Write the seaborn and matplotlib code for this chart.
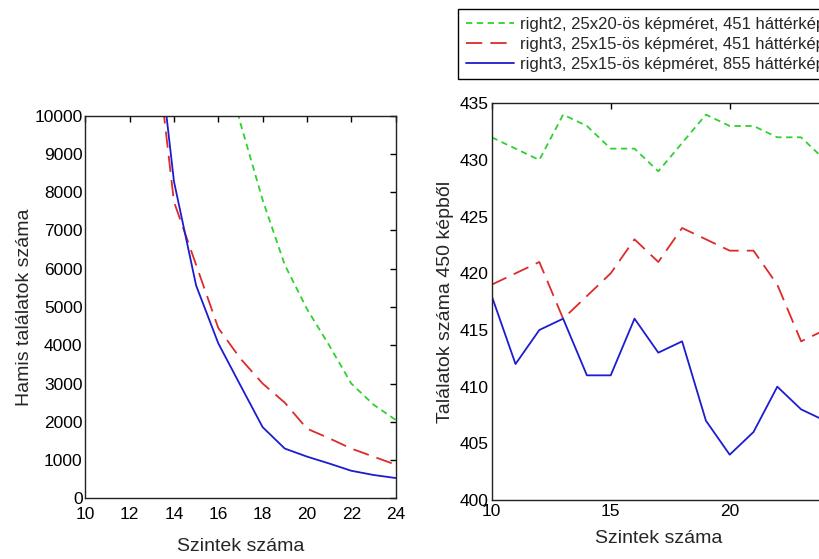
import matplotlib
matplotlib.use("Agg")
import matplotlib.pyplot as plt
import seaborn as sns
import pandas as pd
from matplotlib import font_manager

# ---- data ----
labels = [
    "right2, 25x20-ös képméret, 451 háttérkép",
    "right3, 25x15-ös képméret, 451 háttérkép",
    "right3, 25x15-ös képméret, 855 háttérkép",
]

# left panel: false hits vs. number of levels
left_x_green = [16, 17, 18, 19, 20, 21, 22, 23, 24]
left_y_green = [12000, 9800, 7800, 6100, 4950, 4000, 3000, 2450, 2050]
left_x_red = [13, 14, 15, 16, 17, 18, 19, 20, 21, 22, 23, 24]
left_y_red = [12750, 7750, 6100, 4450, 3650, 3000, 2500, 1820, 1570, 1300, 1090, 880]
left_x_blue = [13, 14, 15, 16, 17, 18, 19, 20, 21, 22, 23, 24]
left_y_blue = [13350, 8280, 5560, 4050, 2950, 1860, 1300, 1090, 910, 720, 610, 530]

# right panel: hits out of 450 images
right_x = [10, 11, 12, 13, 14, 15, 16, 17, 18, 19, 20, 21, 22, 23, 24]
right_y_green = [432, 431, 430, 434, 433, 431, 431, 429, 431.5, 434, 433, 433, 432, 432, 430]
right_y_red = [419, 420, 421, 416, 418, 420, 423, 421, 424, 423, 422, 422, 419, 414, 415]
right_y_blue = [418, 412, 415, 416, 411, 411, 416, 413, 414, 407, 404, 406, 410, 408, 407]

left_xticks = [10, 12, 14, 16, 18, 20, 22, 24]
left_yticks = [0, 1000, 2000, 3000, 4000, 5000, 6000, 7000, 8000, 9000, 10000]
right_xticks = [10, 15, 20]
right_yticks = [400, 405, 410, 415, 420, 425, 430, 435]

sns.set_style("white")
names = {f.name for f in font_manager.fontManager.ttflist}
fam = [f for f in ["Liberation Sans Narrow", "Liberation Sans", "DejaVu Sans"] if f in names]
plt.rcParams["font.family"] = fam
plt.rcParams["axes.edgecolor"] = "black"
plt.rcParams["axes.linewidth"] = 1.0

colors = ["#30d030", "#dd2a2a", "#1c1cd0"]
dashes = [(3.5, 2.5), (9, 4.5), ""]

fig = plt.figure(figsize=(8.19, 5.59), dpi=100)
axL = fig.add_axes([0.1042, 0.1086, 0.3788, 0.6844])
axR = fig.add_axes([0.6004, 0.1055, 0.4068, 0.7097])

left_sets = [(left_x_green, left_y_green), (left_x_red, left_y_red), (left_x_blue, left_y_blue)]
right_sets = [right_y_green, right_y_red, right_y_blue]

handles = []
for i, (xs, ys) in enumerate(left_sets):
    df = pd.DataFrame({"x": xs, "y": ys})
    sns.lineplot(data=df, x="x", y="y", ax=axL, color=colors[i], lw=1.3)
    ln = axL.lines[-1]
    if dashes[i]:
        ln.set_dashes(dashes[i])
    dfr = pd.DataFrame({"x": right_x, "y": right_sets[i]})
    sns.lineplot(data=dfr, x="x", y="y", ax=axR, color=colors[i], lw=1.3)
    lr = axR.lines[-1]
    if dashes[i]:
        lr.set_dashes(dashes[i])
    handles.append(lr)

axL.set_xticks(left_xticks)
axL.set_yticks(left_yticks)
axL.set_xlim(10, 24)
axL.set_ylim(0, 10000)
axL.set_xlabel("Szintek száma", fontsize=14, labelpad=12)
axL.set_ylabel("Hamis találatok száma", fontsize=14, labelpad=1)

axR.set_xticks(right_xticks)
axR.set_yticks(right_yticks)
axR.set_xlim(10, 24)
axR.set_ylim(400, 435)
axR.set_xlabel("Szintek száma", fontsize=14, labelpad=8)
axR.set_ylabel("Találatok száma 450 képből", fontsize=14, labelpad=4)

for ax in (axL, axR):
    ax.tick_params(direction="in", length=4, width=1, top=True, right=True,
                   labelsize=12.5, pad=2, colors="black")
    for s in ax.spines.values():
        s.set_visible(True)
        s.set_color("#222222")
axL.tick_params(axis="x", pad=6)
axR.tick_params(axis="x", pad=3)

leg = fig.legend(handles, labels, loc="upper left",
                 bbox_to_anchor=(458 / 819, 1 - 9 / 559),
                 fontsize=12, frameon=True, fancybox=False, framealpha=1,
                 edgecolor="black", handlelength=2.9, handletextpad=0.4,
                 borderpad=0.45, labelspacing=0.3, borderaxespad=0)
leg.get_frame().set_linewidth(1.0)

fig.savefig("out.png", dpi=100)
